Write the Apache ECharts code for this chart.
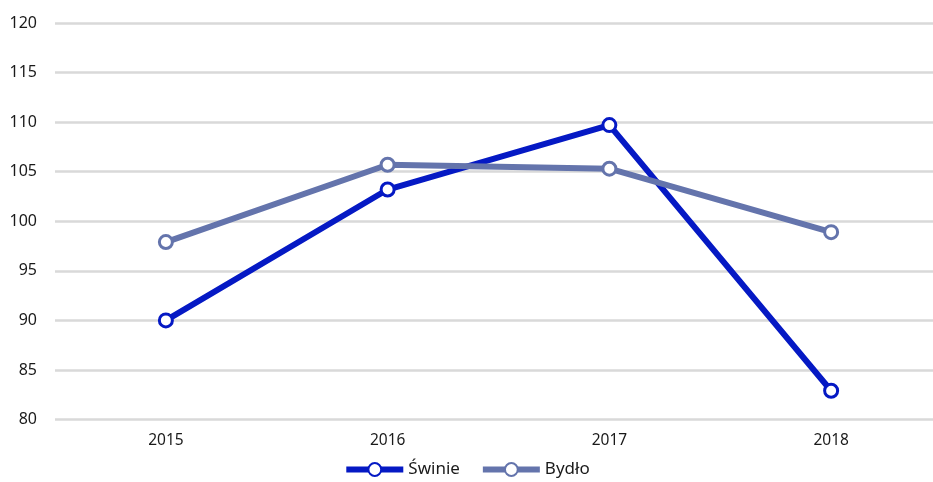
<!DOCTYPE html>
<html>
<head>
<meta charset="utf-8">
<script src="https://cdn.jsdelivr.net/npm/echarts@6/dist/echarts.min.js"></script>
<style>
html,body{margin:0;padding:0;background:#fff;}
#chart{width:933px;height:482px;}
</style>
</head>
<body>
<div id="chart"></div>
<script>
// dane
let years=["2015","2016","2017","2018"]
let swinie=[90.0,103.2,109.7,82.9]
let bydlo=[97.9,105.7,105.3,98.9]
let font="Noto Sans"

let myChart=echarts.init(document.getElementById("chart"))
myChart.setOption({
  animation:false,
  grid:{
    left:55,
    right:-9,
    top:23,
    bottom:62.5,
    outerBoundsMode:"none"
  },
  legend:{
    bottom:-1,
    left:"center",
    itemWidth:57,
    itemHeight:16,
    itemGap:20,
    lineStyle:{width:6},
    textStyle:{color:"#1a1a1a",fontSize:17,fontFamily:font},
    data:["Świnie","Bydło"]
  },
  xAxis:{
    type:"category",
    data:years,
    axisLine:{show:false},
    axisTick:{show:false},
    axisLabel:{color:"#1a1a1a",fontSize:15.5,fontFamily:font,margin:13}
  },
  yAxis:{
    type:"value",
    min:80,
    max:120,
    interval:5,
    axisLine:{show:false},
    axisTick:{show:false},
    axisLabel:{color:"#1a1a1a",fontSize:16,fontFamily:font,margin:18},
    splitLine:{lineStyle:{color:"#d9d9d9",width:2.5}}
  },
  series:[
    {
      name:"Świnie",
      type:"line",
      data:swinie,
      symbol:"circle",
      symbolSize:13,
      color:"#0519c4",
      lineStyle:{width:6,color:"#0519c4"},
      itemStyle:{color:"#fff",borderColor:"#0519c4",borderWidth:3}
    },
    {
      name:"Bydło",
      type:"line",
      data:bydlo,
      symbol:"circle",
      symbolSize:13,
      color:"#6474ac",
      lineStyle:{width:6,color:"#6474ac"},
      itemStyle:{color:"#fff",borderColor:"#6474ac",borderWidth:3}
    }
  ]
})
</script>
</body>
</html>
